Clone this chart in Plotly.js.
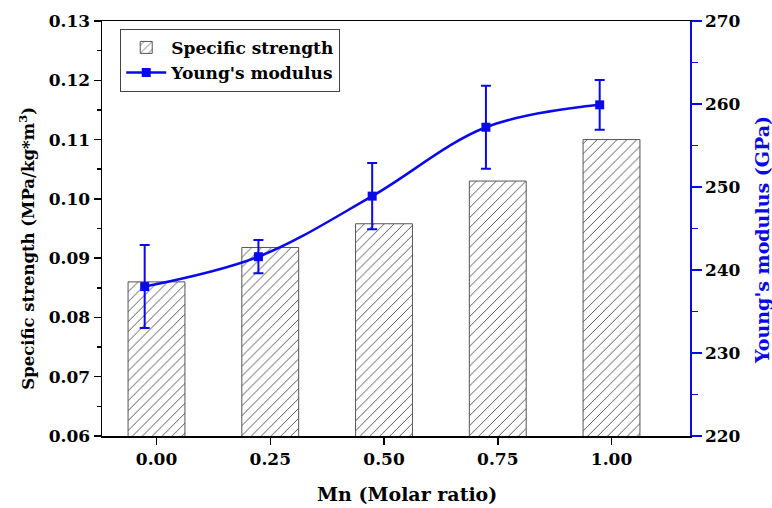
<!DOCTYPE html>
<html>
<head>
<meta charset="utf-8">
<script src="https://cdn.plot.ly/plotly-3.0.1.min.js"></script>
<style>html,body{margin:0;padding:0;background:#fff;}#chart{width:772px;height:508px;}</style>
</head>
<body>
<div id="chart"></div>
<script>
// Data
const mnRatio = [0.00, 0.25, 0.50, 0.75, 1.00];
const tickLabels = ['0.00', '0.25', '0.50', '0.75', '1.00'];
const specificStrength = [0.0860, 0.0918, 0.0958, 0.1030, 0.1100];
const youngsModulus = [238.0, 241.6, 248.9, 257.2, 259.9];
const youngsError = [5.0, 2.0, 4.0, 5.0, 3.0];

const xTitle = 'Mn (Molar ratio)';
const yTitle = 'Specific strength (MPa/kg*m<sup>3</sup>)';
const y2Title = "Young's modulus (GPa)";

const FONT = 'DejaVu Serif, Liberation Serif, serif';
const BLUE = '#0a0ae8';

const traces = [
  {
    type: 'bar',
    name: 'Specific strength',
    x: mnRatio,
    y: specificStrength,
    width: 0.125,
    marker: {
      color: 'white',
      line: {color: '#555555', width: 1},
      pattern: {shape: '/', fgcolor: '#3a3a3a', bgcolor: 'white', size: 7, solidity: 0.12}
    },
    xaxis: 'x', yaxis: 'y'
  },
  {
    type: 'scatter',
    mode: 'lines+markers',
    name: "Young's modulus",
    x: mnRatio,
    y: youngsModulus,
    line: {color: BLUE, width: 2.5, shape: 'spline', smoothing: 1},
    marker: {symbol: 'square', size: 9, color: BLUE},
    error_y: {type: 'data', array: youngsError, visible: true, color: BLUE, thickness: 2, width: 5},
    xaxis: 'x2', yaxis: 'y2'
  }
];

const xr = [-0.1198, 1.1725];
const shift = 0.026;

const layout = {
  width: 772, height: 508,
  margin: {l: 102, r: 82, t: 21, b: 72},
  paper_bgcolor: 'white', plot_bgcolor: 'white',
  font: {family: FONT, color: 'black'},
  showlegend: true,
  legend: {
    x: 0.031, y: 0.981, xanchor: 'left', yanchor: 'top',
    bgcolor: 'white', bordercolor: '#444', borderwidth: 1,
    font: {family: FONT, size: 17, weight: 'bold', color: 'black'},
    tracegroupgap: 0, itemwidth: 40
  },
  xaxis: {
    range: xr,
    tickvals: mnRatio, ticktext: tickLabels,
    ticks: 'outside', ticklen: 7, tickwidth: 1.5, tickcolor: 'black',
    showline: true, linecolor: 'black', linewidth: 1.5, mirror: true,
    showgrid: false, zeroline: false,
    tickfont: {family: FONT, size: 17, weight: 'bold', color: 'black'}
  },
  xaxis2: {
    range: [xr[0] + shift, xr[1] + shift],
    overlaying: 'x', visible: false
  },
  yaxis: {
    range: [0.06, 0.13], dtick: 0.01, tick0: 0.06, tickformat: '.2f',
    ticks: 'outside', ticklen: 7, tickwidth: 1.5, tickcolor: 'black',
    minor: {dtick: 0.005, ticks: 'outside', ticklen: 4, tickwidth: 1.5, tickcolor: 'black', showgrid: false},
    showline: true, linecolor: 'black', linewidth: 1.5,
    showgrid: false, zeroline: false,
    tickfont: {family: FONT, size: 17, weight: 'bold', color: 'black'}
  },
  yaxis2: {
    range: [220, 270], dtick: 10, tick0: 220,
    overlaying: 'y', side: 'right',
    ticks: 'outside', ticklen: 10, tickwidth: 1.5, tickcolor: BLUE,
    minor: {dtick: 5, ticks: 'outside', ticklen: 6, tickwidth: 1.5, tickcolor: BLUE, showgrid: false},
    showline: true, linecolor: BLUE, linewidth: 1.5,
    showgrid: false, zeroline: false,
    tickfont: {family: FONT, size: 17, weight: 'bold', color: 'black'}
  },
  annotations: [
    {text: xTitle, xref: 'paper', yref: 'paper', x: 0.519, y: -0.14, xanchor: 'center', yanchor: 'middle',
     showarrow: false, font: {family: FONT, size: 19, weight: 'bold', color: 'black'}},
    {text: yTitle, xref: 'paper', yref: 'paper', x: -0.128, y: 0.453, xanchor: 'center', yanchor: 'middle',
     textangle: -90, showarrow: false, font: {family: FONT, size: 16.5, weight: 'bold', color: 'black'}},
    {text: y2Title, xref: 'paper', yref: 'paper', x: 1.1224, y: 0.472, xanchor: 'center', yanchor: 'middle',
     textangle: -90, showarrow: false, font: {family: FONT, size: 19, weight: 'bold', color: BLUE}}
  ]
};

Plotly.newPlot('chart', traces, layout, {displayModeBar: false, staticPlot: true});
</script>
</body>
</html>
